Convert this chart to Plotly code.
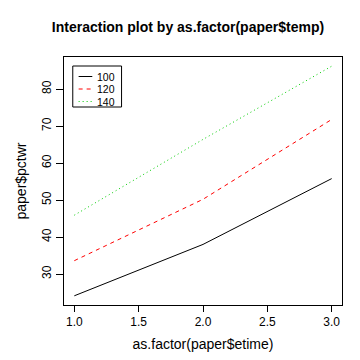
import plotly.graph_objects as go

etime = [1, 2, 3]
temps = ["100", "120", "140"]
pctwr_100 = [24.1, 38.0, 55.8]
pctwr_120 = [33.6, 50.2, 71.8]
pctwr_140 = [45.9, 66.4, 86.2]
x_ticks = [1.0, 1.5, 2.0, 2.5, 3.0]
y_ticks = [30, 40, 50, 60, 70, 80]

series = [pctwr_100, pctwr_120, pctwr_140]
colors = ["#000000", "#FF0000", "#00CD00"]
dashes = ["solid", "4px,4px", "1px,3px"]

W, H = 360, 360
ML, MR, MT, MB = 49, 26, 49, 63
PW, PH = W - ML - MR, H - MT - MB

def px(x):
    return (x - ML) / PW

def py(y):
    return (H - MB - y) / PH

fig = go.Figure()
for name, ys, c, d in zip(temps, series, colors, dashes):
    fig.add_trace(go.Scatter(x=etime, y=ys, mode="lines", name=name,
                             line=dict(color=c, width=1, dash=d),
                             showlegend=False))

# R-style legend box
fig.add_shape(type="rect", xref="paper", yref="paper",
              x0=px(58), x1=px(108), y0=py(99), y1=py(58),
              line=dict(color="black", width=1), fillcolor="white")
leg_y = [68.5, 81, 93.5]
for name, c, d, ly in zip(temps, colors, dashes, leg_y):
    fig.add_shape(type="line", xref="paper", yref="paper",
                  x0=px(64), x1=px(78), y0=py(ly), y1=py(ly),
                  line=dict(color=c, width=1, dash=d))
    fig.add_annotation(text=name, xref="paper", yref="paper",
                       x=px(82), y=py(ly), xanchor="left", yanchor="middle",
                       showarrow=False, borderpad=0, font=dict(size=10.5))

allv = [v for s in series for v in s]
lo, hi = min(allv), max(allv)
pad = (hi - lo) * 0.04
font = "Liberation Sans, Arial, sans-serif"

fig.update_layout(
    width=W, height=H,
    margin=dict(l=ML, r=MR, t=MT, b=MB),
    paper_bgcolor="white", plot_bgcolor="white",
    font=dict(family=font, size=12, color="black"),
    title=dict(text="<b>Interaction plot by as.factor(paper$temp)</b>",
               x=0.5, xref="container", xanchor="center",
               y=1 - 19 / H, yref="container", yanchor="middle",
               font=dict(size=14)),
    showlegend=False,
    xaxis=dict(range=[0.92, 3.08], tickvals=x_ticks,
               ticktext=[f"{v:.1f}" for v in x_ticks],
               ticks="outside", ticklen=6, tickcolor="black",
               showline=True, linecolor="black", mirror=True,
               showgrid=False, zeroline=False,
               title=dict(text="as.factor(paper$etime)", standoff=10)),
    yaxis=dict(range=[lo - pad, hi + pad], tickvals=y_ticks,
               ticks="outside", ticklen=7, tickcolor="black", tickangle=-90,
               showline=True, linecolor="black", mirror=True,
               showgrid=False, zeroline=False,
               title=dict(text="paper$pctwr", standoff=10)),
)

fig.write_html("out.html")
